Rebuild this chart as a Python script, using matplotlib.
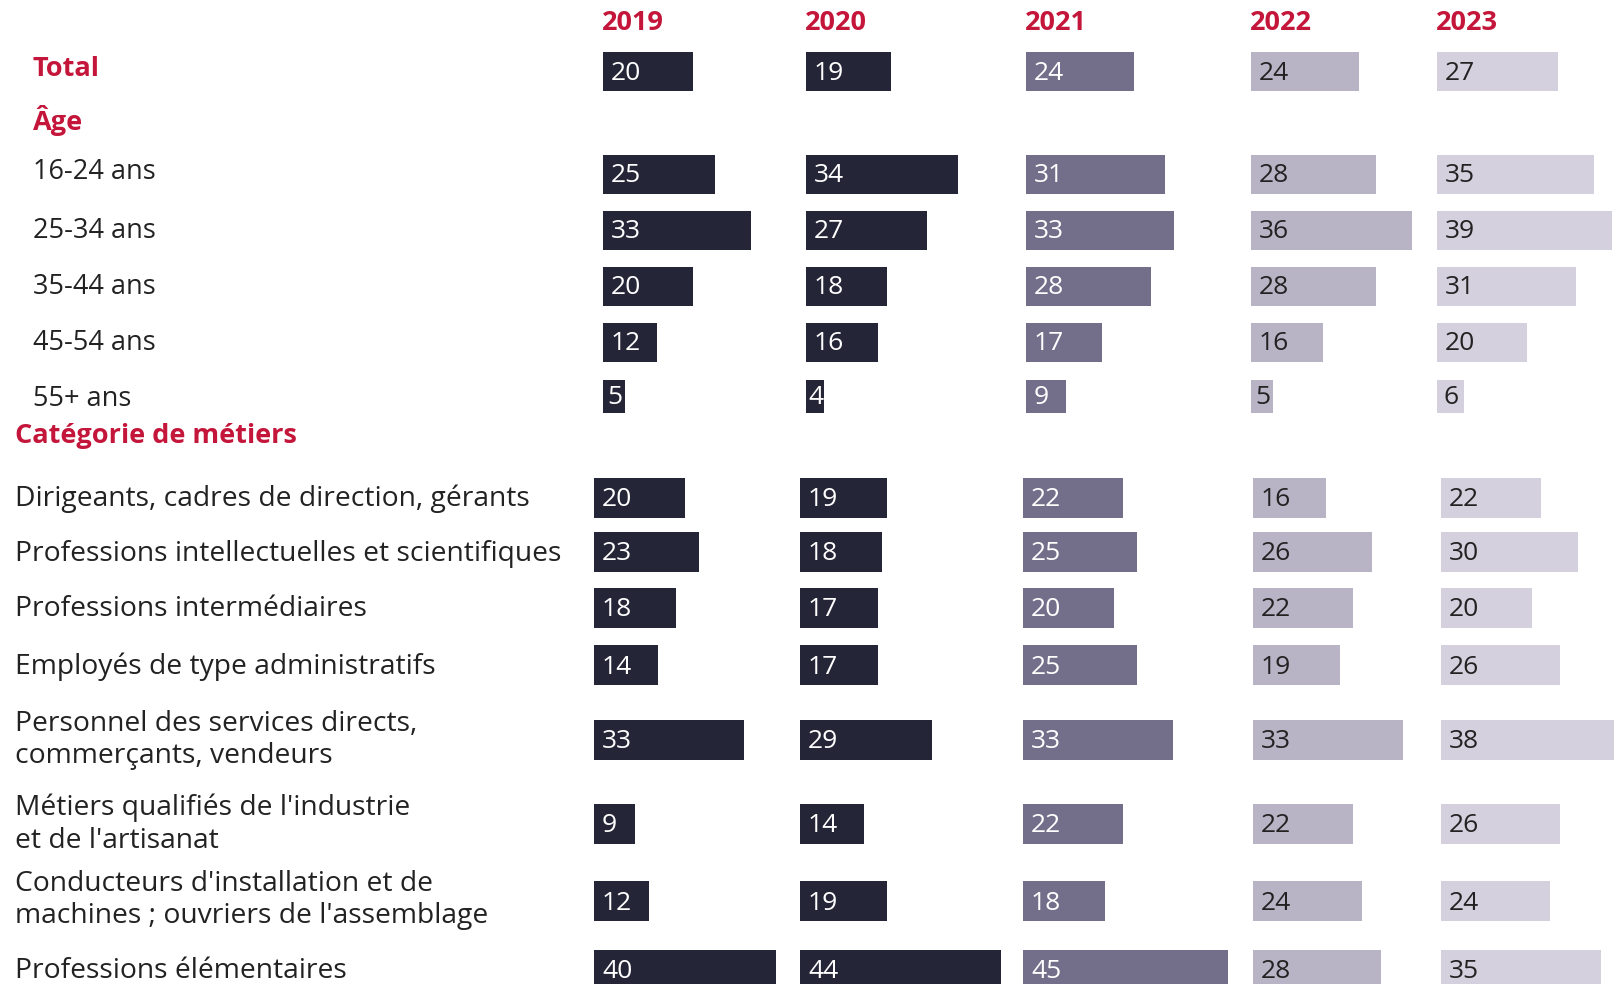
import numpy as np
import matplotlib.pyplot as plt

plt.rcParams["font.family"] = ["Open Sans", "DejaVu Sans"]

years = ["2019", "2020", "2021", "2022", "2023"]

total_label = "Total"
total_values = [20, 19, 24, 24, 27]

age_title = "Âge"
age_labels = ["16-24 ans", "25-34 ans", "35-44 ans", "45-54 ans", "55+ ans"]
age_values = [
    [25, 34, 31, 28, 35],
    [33, 27, 33, 36, 39],
    [20, 18, 28, 28, 31],
    [12, 16, 17, 16, 20],
    [5, 4, 9, 5, 6],
]

job_title = "Catégorie de métiers"
job_labels = [
    "Dirigeants, cadres de direction, gérants",
    "Professions intellectuelles et scientifiques",
    "Professions intermédiaires",
    "Employés de type administratifs",
    "Personnel des services directs,\ncommerçants, vendeurs",
    "Métiers qualifiés de l'industrie\net de l'artisanat",
    "Conducteurs d'installation et de\nmachines ; ouvriers de l'assemblage",
    "Professions élémentaires",
]
job_values = [
    [20, 19, 22, 16, 22],
    [23, 18, 25, 26, 30],
    [18, 17, 20, 22, 20],
    [14, 17, 25, 19, 26],
    [33, 29, 33, 33, 38],
    [9, 14, 22, 22, 26],
    [12, 19, 18, 24, 24],
    [40, 44, 45, 28, 35],
]

# style / layout (pixel space of the 1624x984 canvas)
RED = "#c4163a"
INK = "#222222"
bar_colors = ["#252538", "#252538", "#736f8b", "#b8b4c5", "#d5d0dd"]
text_colors = ["white", "white", "white", "#222222", "#222222"]

top_cols = [603, 806, 1026, 1251, 1437]
job_cols = [594, 800, 1023, 1253, 1441]
top_scale = 4.48
job_scale = 4.56

total_y = 71
age_y = [174, 230, 286, 342, 396]
age_h = [39, 39, 39, 39, 33]
job_y = [498, 552, 608, 665, 740, 824, 901, 970]
job_label_y = [499, 554, 609, 667, 740, 824, 900, 971]

FS_AGE = 19.5   # age row labels
FS_JOB = 20.3   # job row labels
FS_HEAD = 19.5  # red bold headings
FS_VAL = 19     # numbers in bars

fig = plt.figure(figsize=(16.24, 9.84), dpi=100)
ax = fig.add_axes([0, 0, 1, 1])
ax.set_xlim(0, 1624)
ax.set_ylim(984, 0)
ax.axis("off")


def draw_rows(ys, heights, rows, cols, scale):
    rows = np.asarray(rows)
    for j in range(len(years)):
        vals = rows[:, j]
        ax.barh(ys, vals * scale, left=cols[j], height=heights,
                color=bar_colors[j], edgecolor="none")
        for y, v in zip(ys, vals):
            w = v * scale
            pad = 8 if v >= 7 else max(1.5, (w - 14) / 2)
            ax.text(cols[j] + pad, y - 1, str(v), color=text_colors[j],
                    fontsize=FS_VAL, va="center_baseline", ha="left")


# year headers
for j, yr in enumerate(years):
    ax.text(top_cols[j] - 1, 23, yr, color=RED, fontsize=FS_HEAD,
            fontweight="bold", va="center", ha="left")

# total
ax.text(33, 69, total_label, color=RED, fontsize=FS_HEAD, fontweight="bold", va="center")
draw_rows([total_y], [39], [total_values], top_cols, top_scale)

# age
ax.text(33, 120, age_title, color=RED, fontsize=FS_HEAD, fontweight="bold", va="center")
for lab, y in zip(age_labels, [172, 231, 287, 343, 399]):
    ax.text(33, y, lab, color=INK, fontsize=FS_AGE, va="center")
draw_rows(age_y, age_h, age_values, top_cols, top_scale)

# job categories
ax.text(15, 436, job_title, color=RED, fontsize=FS_HEAD, fontweight="bold", va="center")
for lab, y in zip(job_labels, job_label_y):
    ax.text(15, y, lab, color=INK, fontsize=FS_JOB, va="center", linespacing=1.23)
draw_rows(job_y, [40] * len(job_y), job_values, job_cols, job_scale)

fig.savefig("out.png", dpi=100)
plt.close(fig)
